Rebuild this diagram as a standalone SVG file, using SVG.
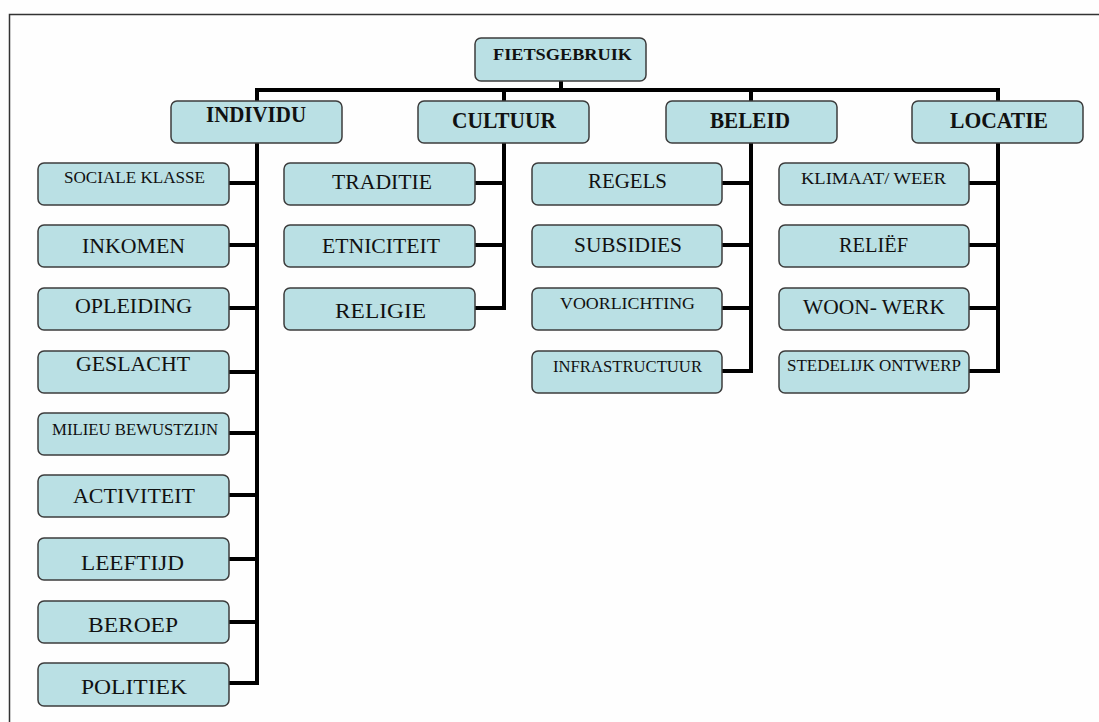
<svg xmlns="http://www.w3.org/2000/svg" width="1099" height="722" viewBox="0 0 1099 722">
<style>
.box{fill:#bae0e4;stroke:#3c3c3c;stroke-width:1.5}
.t{font-family:"Liberation Serif",serif;text-anchor:middle;fill:#111}
.n{font-size:21px}
.s{font-size:16px}
.b{font-size:24px;font-weight:bold}
.tb{font-size:17px;font-weight:bold}
.c{fill:none;stroke:#000;stroke-width:4;stroke-linejoin:miter;stroke-linecap:butt}
</style>
<rect x="0" y="0" width="1099" height="722" fill="#fefefe"/>
<path d="M9.5 722 V14.5 H1099" fill="none" stroke="#333" stroke-width="1.5"/>
<g id="connectors">
<path class="c" d="M561 81 V90 M257 103 V90 H998 V103 M504 90 V103 M751 90 V103"/>
<path class="c" d="M257 143 V685 M229 183 H257 M229 245 H257 M229 308 H257 M229 372 H257 M229 433 H257 M229 495 H257 M229 559 H257 M229 622 H257 M229 683 H259"/>
<path class="c" d="M504 143 V310 M475 183 H504 M475 245 H504 M475 308 H506"/>
<path class="c" d="M751 143 V373 M722 183 H751 M722 245 H751 M722 308 H751 M722 371 H753"/>
<path class="c" d="M998 143 V373 M969 183 H998 M969 245 H998 M969 308 H998 M969 371 H1000"/>
</g>
<g id="fietsgebruik"><rect class="box" x="475" y="38" width="171" height="43" rx="6"/><text class="t tb" x="562.5" y="60" textLength="139" lengthAdjust="spacingAndGlyphs">FIETSGEBRUIK</text></g>
<g id="individu"><rect class="box" x="171" y="101" width="171" height="42" rx="6"/><text class="t b" x="256" y="122" textLength="100" lengthAdjust="spacingAndGlyphs">INDIVIDU</text></g>
<g id="cultuur"><rect class="box" x="418" y="101" width="171" height="42" rx="6"/><text class="t b" x="504" y="128" textLength="104" lengthAdjust="spacingAndGlyphs">CULTUUR</text></g>
<g id="beleid"><rect class="box" x="666" y="101" width="171" height="42" rx="6"/><text class="t b" x="750" y="128" textLength="80" lengthAdjust="spacingAndGlyphs">BELEID</text></g>
<g id="locatie"><rect class="box" x="912" y="101" width="171" height="42" rx="6"/><text class="t b" x="999" y="128" textLength="98" lengthAdjust="spacingAndGlyphs">LOCATIE</text></g>

<g id="sociale-klasse"><rect class="box" x="38" y="163" width="191" height="42" rx="6"/><text class="t s" x="134.5" y="183" textLength="141" lengthAdjust="spacingAndGlyphs">SOCIALE KLASSE</text></g>
<g id="inkomen"><rect class="box" x="38" y="225" width="191" height="42" rx="6"/><text class="t n" x="133.5" y="253" textLength="103" lengthAdjust="spacingAndGlyphs">INKOMEN</text></g>
<g id="opleiding"><rect class="box" x="38" y="288" width="191" height="42" rx="6"/><text class="t n" x="133.5" y="313" textLength="117" lengthAdjust="spacingAndGlyphs">OPLEIDING</text></g>
<g id="geslacht"><rect class="box" x="38" y="351" width="191" height="42" rx="6"/><text class="t n" x="133" y="371" textLength="114" lengthAdjust="spacingAndGlyphs">GESLACHT</text></g>
<g id="milieu"><rect class="box" x="38" y="413" width="191" height="42" rx="6"/><text class="t s" x="135" y="435" textLength="166" lengthAdjust="spacingAndGlyphs">MILIEU BEWUSTZIJN</text></g>
<g id="activiteit"><rect class="box" x="38" y="475" width="191" height="42" rx="6"/><text class="t n" x="134" y="503" textLength="122" lengthAdjust="spacingAndGlyphs">ACTIVITEIT</text></g>
<g id="leeftijd"><rect class="box" x="38" y="538" width="191" height="42" rx="6"/><text class="t n" x="132.5" y="570" textLength="103" lengthAdjust="spacingAndGlyphs">LEEFTIJD</text></g>
<g id="beroep"><rect class="box" x="38" y="601" width="191" height="42" rx="6"/><text class="t n" x="133" y="632" textLength="90" lengthAdjust="spacingAndGlyphs">BEROEP</text></g>
<g id="politiek"><rect class="box" x="38" y="663" width="191" height="43" rx="6"/><text class="t n" x="134" y="694" textLength="106" lengthAdjust="spacingAndGlyphs">POLITIEK</text></g>

<g id="traditie"><rect class="box" x="284" y="163" width="191" height="42" rx="6"/><text class="t n" x="382" y="189" textLength="100" lengthAdjust="spacingAndGlyphs">TRADITIE</text></g>
<g id="etniciteit"><rect class="box" x="284" y="225" width="191" height="42" rx="6"/><text class="t n" x="381" y="253" textLength="118" lengthAdjust="spacingAndGlyphs">ETNICITEIT</text></g>
<g id="religie"><rect class="box" x="284" y="288" width="191" height="42" rx="6"/><text class="t n" x="380.5" y="318" textLength="91" lengthAdjust="spacingAndGlyphs">RELIGIE</text></g>

<g id="regels"><rect class="box" x="532" y="163" width="190" height="42" rx="6"/><text class="t n" x="627.5" y="188" textLength="79" lengthAdjust="spacingAndGlyphs">REGELS</text></g>
<g id="subsidies"><rect class="box" x="532" y="225" width="190" height="42" rx="6"/><text class="t n" x="628" y="252" textLength="108" lengthAdjust="spacingAndGlyphs">SUBSIDIES</text></g>
<g id="voorlichting"><rect class="box" x="532" y="288" width="190" height="42" rx="6"/><text class="t s" x="627.5" y="309" textLength="135" lengthAdjust="spacingAndGlyphs">VOORLICHTING</text></g>
<g id="infrastructuur"><rect class="box" x="532" y="351" width="190" height="42" rx="6"/><text class="t s" x="627.5" y="372" textLength="149" lengthAdjust="spacingAndGlyphs">INFRASTRUCTUUR</text></g>

<g id="klimaat"><rect class="box" x="779" y="163" width="190" height="42" rx="6"/><text class="t s" x="873.5" y="184" textLength="145" lengthAdjust="spacingAndGlyphs">KLIMAAT/ WEER</text></g>
<g id="relief"><rect class="box" x="779" y="225" width="190" height="42" rx="6"/><text class="t n" x="873.5" y="252" textLength="69" lengthAdjust="spacingAndGlyphs">RELIËF</text></g>
<g id="woon-werk"><rect class="box" x="779" y="288" width="190" height="42" rx="6"/><text class="t n" x="874" y="314" textLength="142" lengthAdjust="spacingAndGlyphs">WOON- WERK</text></g>
<g id="stedelijk"><rect class="box" x="779" y="351" width="190" height="42" rx="6"/><text class="t s" x="874" y="371" textLength="174" lengthAdjust="spacingAndGlyphs">STEDELIJK ONTWERP</text></g>
</svg>
